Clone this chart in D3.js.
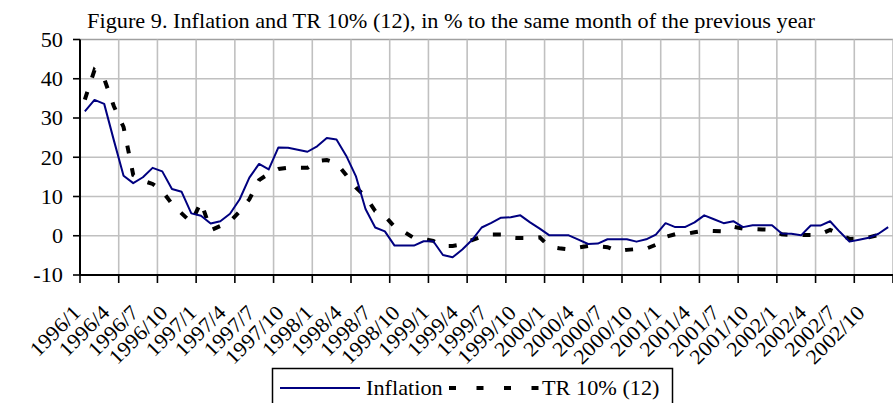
<!DOCTYPE html>
<html>
<head>
<meta charset="utf-8">
<script src="https://cdn.jsdelivr.net/npm/d3@7"></script>
<style>
  body { margin: 0; background: #fff; }
  svg { display: block; }
</style>
</head>
<body>
<div id="chart"></div>
<script>
// Categories: monthly, 1996/1 .. 2002/12
const months = [];
for (let y = 1996; y <= 2002; y++) {
  for (let m = 1; m <= 12; m++) months.push(y + "/" + m);
}

// Inflation, % to same month of previous year
const inflation = [
  31.7, 34.6, 33.6, 24.3, 15.3, 13.4, 14.9, 17.3, 16.4, 11.9, 11.2, 5.7,
  5.1, 3.1, 3.7, 5.6, 9.3, 14.8, 18.3, 16.9, 22.5, 22.4, 21.9, 21.4,
  22.8, 24.9, 24.5, 20.4, 15.2, 6.8, 2.1, 1.1, -2.5, -2.5, -2.5, -1.4,
  -1.4, -4.9, -5.5, -3.5, -1.1, 2.1, 3.3, 4.6, 4.7, 5.2, 3.4, 1.8,
  0.1, 0.1, 0.1, -1.0, -2.1, -2.0, -0.9, -0.9, -0.9, -1.5, -0.9, 0.3,
  3.2, 2.2, 2.2, 3.4, 5.2, 4.2, 3.2, 3.7, 2.2, 2.7, 2.7, 2.7,
  0.6, 0.5, 0.1, 2.6, 2.6, 3.7, 1.0, -1.5, -1.0, -0.5, 0.5, 2.2
];

// TR 10% (12)
const tr10 = [
  34.7, 42.2, 40.0, 33.0, 27.7, 15.5, 14.0, 13.2, 11.4, 8.1, 5.7, 3.4,
  8.6, 1.4, 2.5, 3.6, 6.2, 9.3, 14.2, 15.8, 17.0, 17.3, 17.3, 17.3,
  19.0, 19.3, 18.5, 15.5, 12.3, 10.0, 6.3, 5.0, 2.3, 1.0, -0.6, -0.9,
  -1.3, -2.6, -2.6, -2.2, -1.1, -0.2, 0.3, 0.3, -0.5, -0.6, -0.6, -0.4,
  -2.8, -3.2, -3.5, -3.0, -2.6, -2.7, -2.9, -3.9, -3.6, -3.4, -3.3, -2.3,
  -0.3, 0.4, 0.4, 0.9, 1.3, 1.2, 1.1, 2.3, 1.8, 1.7, 1.6, 1.5,
  0.4, 0.2, 0.2, 0.2, 0.4, 1.5, 0.4, -0.8, -0.7, -0.4, 0.2, 0.8
];

const yTicks = [-10, 0, 10, 20, 30, 40, 50];
const labelEvery = 3;   // category labels
const tickEvery = 4;    // tick marks / vertical gridlines

const width = 893, height = 403;
const plot = { left: 80, right: 893, top: 39.5, bottom: 275 };
const serif = "'Liberation Serif', 'Times New Roman', Times, serif";
const stretch = 1.06;   // the original text is slightly wider than Liberation Serif

const svg = d3.select("#chart").append("svg")
  .attr("width", width)
  .attr("height", height)
  .attr("font-family", serif)
  .attr("font-size", 21);

const x = d3.scaleBand()
  .domain(months)
  .range([plot.left, plot.right])
  .paddingInner(0)
  .paddingOuter(0);

const y = d3.scaleLinear()
  .domain([-10, 50])
  .range([plot.bottom, plot.top]);

const cx = d => x(d) + x.bandwidth() / 2;

// Category boundaries for ticks / gridlines
const boundaries = d3.range(0, months.length + 1, tickEvery)
  .map(i => plot.left + i * x.bandwidth());

// Horizontal gridlines
svg.append("g")
  .selectAll("line")
  .data(yTicks.filter(t => t > -10))
  .enter().append("line")
  .attr("x1", plot.left).attr("x2", plot.right)
  .attr("y1", d => y(d)).attr("y2", d => y(d))
  .attr("stroke", d => d === 50 ? "#a0a0a0" : "#c0c0c0")
  .attr("stroke-width", 1.6);

// Vertical gridlines
svg.append("g")
  .selectAll("line")
  .data(boundaries.slice(1))
  .enter().append("line")
  .attr("x1", d => d).attr("x2", d => d)
  .attr("y1", plot.top).attr("y2", plot.bottom)
  .attr("stroke", "#c0c0c0")
  .attr("stroke-width", 1.6);

// Y axis
const yAxis = svg.append("g");
yAxis.append("line")
  .attr("x1", plot.left).attr("x2", plot.left)
  .attr("y1", plot.top).attr("y2", plot.bottom)
  .attr("stroke", "#000").attr("stroke-width", 2);
yAxis.selectAll(".ytick")
  .data(yTicks)
  .enter().append("line")
  .attr("x1", plot.left - 7).attr("x2", plot.left)
  .attr("y1", d => y(d)).attr("y2", d => y(d))
  .attr("stroke", "#000").attr("stroke-width", 1.6);
yAxis.selectAll(".ylabel")
  .data(yTicks)
  .enter().append("text")
  .attr("x", 63)
  .attr("y", d => y(d))
  .attr("dy", "0.35em")
  .attr("text-anchor", "end")
  .text(d => d);

// X axis
const xAxis = svg.append("g");
xAxis.append("line")
  .attr("x1", plot.left).attr("x2", plot.right)
  .attr("y1", plot.bottom).attr("y2", plot.bottom)
  .attr("stroke", "#000").attr("stroke-width", 2);
xAxis.selectAll(".xtick")
  .data(boundaries)
  .enter().append("line")
  .attr("x1", d => d).attr("x2", d => d)
  .attr("y1", plot.bottom).attr("y2", plot.bottom + 8)
  .attr("stroke", "#000").attr("stroke-width", 1.6);
xAxis.selectAll(".xlabel")
  .data(months.filter((m, i) => i % labelEvery === 0))
  .enter().append("text")
  .attr("text-anchor", "end")
  .attr("transform", d => `translate(${cx(d) - 3},${plot.bottom + 39}) rotate(-45)`)
  .text(d => d);

// Lines
const line = d3.line()
  .x((d, i) => cx(months[i]))
  .y(d => y(d));

svg.append("path")
  .datum(tr10)
  .attr("fill", "none")
  .attr("stroke", "#000")
  .attr("stroke-width", 4)
  .attr("stroke-dasharray", "8,15")
  .attr("d", line);

svg.append("path")
  .datum(inflation)
  .attr("fill", "none")
  .attr("stroke", "#000080")
  .attr("stroke-width", 2)
  .attr("stroke-linejoin", "round")
  .attr("d", line);

// Title
svg.append("text")
  .attr("x", 451)
  .attr("y", 28)
  .attr("text-anchor", "middle")
  .text("Figure 9. Inflation and TR 10% (12), in % to the same month of the previous year");

// Legend
const legend = svg.append("g");
legend.append("rect")
  .attr("x", 272.5).attr("y", 368.5)
  .attr("width", 400).attr("height", 50)
  .attr("fill", "#fff")
  .attr("stroke", "#000").attr("stroke-width", 1.5);
legend.append("line")
  .attr("x1", 280).attr("x2", 360)
  .attr("y1", 388).attr("y2", 388)
  .attr("stroke", "#000080").attr("stroke-width", 2);
legend.append("text")
  .attr("x", 366).attr("y", 395)
  .text("Inflation");
legend.append("line")
  .attr("x1", 449).attr("x2", 539)
  .attr("y1", 388).attr("y2", 388)
  .attr("stroke", "#000").attr("stroke-width", 4)
  .attr("stroke-dasharray", "7,20.5");
legend.append("text")
  .attr("x", 542).attr("y", 395)
  .text("TR 10% (12)");

// Widen every text a little to match the original's glyph widths
svg.selectAll("text").each(function () {
  const w = this.getComputedTextLength();
  d3.select(this)
    .attr("textLength", (w * stretch).toFixed(1))
    .attr("lengthAdjust", "spacingAndGlyphs");
});
</script>
</body>
</html>
